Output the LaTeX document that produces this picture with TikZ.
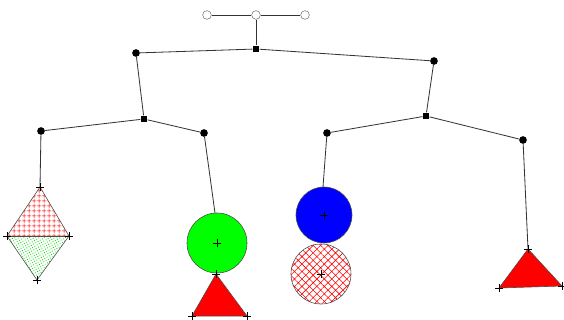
\documentclass[tikz,border=0pt]{standalone}
\usetikzlibrary{patterns.meta}
\begin{document}
\begin{tikzpicture}[x=0.03cm,y=-0.03cm,
  joint/.style={circle,fill=black,inner sep=0pt,minimum size=2.3mm},
  pivot/.style={rectangle,fill=black,inner sep=0pt,minimum size=2mm},
  ring/.style={circle,draw=black!60,fill=white,inner sep=0pt,minimum size=2.6mm},
  rod/.style={draw=black!80,line width=0.7pt},
  edge/.style={draw=black!70,line width=0.5pt}]
  \useasboundingbox (0,0) rectangle (564,320);

  % top hook
  \node[ring] (r1) at (207,15) {};
  \node[ring] (r2) at (256,15) {};
  \node[ring] (r3) at (305,15) {};
  \node[pivot] (p0) at (256,49) {};
  \draw[rod] (r1) to (r2);
  \draw[rod] (r2) to (r3);
  \draw[rod] (r2) to (p0);

  % first level
  \node[joint] (a1) at (136,53) {};
  \node[joint] (a2) at (434,61) {};
  \draw[rod] (a1) to (p0);
  \draw[rod] (p0) to (a2);

  % second level
  \node[pivot] (p1) at (144,119) {};
  \node[pivot] (p2) at (426,116) {};
  \draw[rod] (a1) to (p1);
  \draw[rod] (a2) to (p2);

  \node[joint] (b1) at (41,131) {};
  \node[joint] (b2) at (204,133) {};
  \node[joint] (b3) at (327,133) {};
  \node[joint] (b4) at (523,140) {};
  \draw[rod] (b1) to (p1);
  \draw[rod] (p1) to (b2);
  \draw[rod] (b3) to (p2);
  \draw[rod] (p2) to (b4);

  % weights
  \coordinate (d1) at (40,187);
  \coordinate (d2) at (7,236);
  \coordinate (d3) at (69,236);
  \coordinate (d4) at (37,280);
  \fill[pattern={Hatch[angle=0,distance=4pt,line width=0.5pt]},pattern color=red] (d1) -- (d2) -- (d3) -- cycle;
  \fill[pattern={Dots[radius=0.5pt,distance=2.2pt,angle=30]},pattern color=green!85!black] (d2) -- (d3) -- (d4) -- cycle;
  \draw[edge] (d1) -- (d2) -- (d4) -- (d3) -- cycle;
  \draw[edge] (d2) -- (d3);
  \draw[rod] (b1) to (d1);

  \coordinate (c1) at (217,243);
  \draw[edge,fill=green] (c1) circle (30);
  \draw[rod] (b2) to (215,213);
  \coordinate (t1) at (216,274);
  \coordinate (t2) at (192,316);
  \coordinate (t3) at (247,316);
  \draw[edge,fill=red] (t1) -- (t2) -- (t3) -- cycle;

  \coordinate (c2) at (324,215);
  \draw[edge,fill=blue] (c2) circle (28);
  \draw[rod] (b3) to (323,187);
  \coordinate (c3) at (321,274);
  \draw[edge,pattern={Hatch[angle=45,distance=4.5pt,line width=0.5pt]},pattern color=red] (c3) circle (30);

  \coordinate (t4) at (528,249);
  \coordinate (t5) at (499,288);
  \coordinate (t6) at (562,286);
  \draw[edge,fill=red] (t4) -- (t5) -- (t6) -- cycle;
  \draw[rod] (b4) to (t4);

  % plus marks
  \foreach \m in {d1,d2,d3,d4,c1,c2,c3,t1,t2,t3,t4,t5,t6}
    \draw[black,line width=0.4pt] (\m) +(-4,0) -- +(4,0) (\m) +(0,-4) -- +(0,4);
\end{tikzpicture}
\end{document}
